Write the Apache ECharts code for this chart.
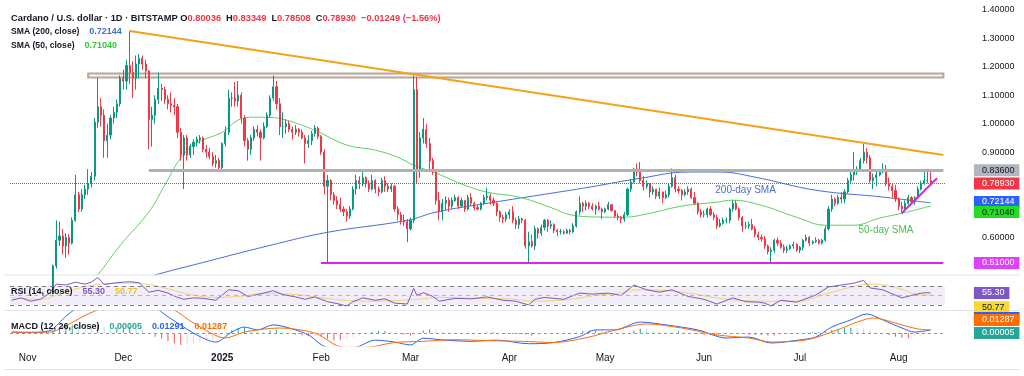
<!DOCTYPE html>
<html><head><meta charset="utf-8">
<script src="https://cdn.jsdelivr.net/npm/echarts@6/dist/echarts.min.js"></script>
<style>html,body{margin:0;padding:0;background:#fff}#c{width:1024px;height:376px}</style>
</head><body><div id="c"></div>
<script>
// ---------- DATA ----------
const startDate = '2024-10-27';
const endDate = '2025-08-15';          // axis runs a few empty days past the last candle
const firstOpen = 0.345;
// daily [close, high, low]; open = previous close (24/7 market)
const oct24 = [[.352,.356,.338],[.356,.362,.344],[.366,.381,.350],[.360,.372,.352],[.341,.362,.334]];
const nov24 = [[.331,.347,.324],[.327,.336,.320],[.318,.329,.309],[.333,.338,.314],[.343,.351,.329],
 [.372,.381,.342],[.383,.392,.366],[.402,.406,.376],[.500,.505,.400],[.590,.660,.490],
 [.605,.655,.570],[.570,.630,.540],[.600,.615,.528],[.580,.612,.540],[.660,.670,.575],
 [.750,.820,.655],[.700,.760,.690],[.750,.770,.690],[.770,.785,.735],[.790,.840,.750],
 [.815,.830,.775],[1.005,1.020,.800],[1.060,1.160,.985],[1.030,1.090,.990],[.940,1.050,.880],
 [.960,1.000,.880],[1.020,1.030,.945],[1.040,1.060,1.000],[1.070,1.085,1.020],[1.160,1.170,1.060]];
const dec24 = [[1.150,1.190,1.120],[1.205,1.225,1.120],[1.180,1.3265,1.140],[1.160,1.220,1.090],[1.210,1.240,1.120],
 [1.230,1.245,1.160],[1.210,1.240,1.190],[1.185,1.225,1.160],[1.015,1.190,.910],[1.030,1.060,.920],
 [1.085,1.100,1.000],[1.125,1.180,1.070],[1.120,1.140,1.080],[1.085,1.130,1.070],[1.070,1.100,1.050],
 [1.065,1.110,1.040],[1.060,1.090,1.030],[.970,1.070,.950],[.890,.985,.870],[.950,.960,.770],
 [.890,.960,.870],[.920,.930,.880],[.935,.945,.890],[.945,.955,.920],[.950,.960,.930],
 [.910,.955,.900],[.900,.925,.880],[.885,.915,.875],[.860,.900,.850],[.870,.890,.845],[.845,.880,.835]];
const jan25 = [[.930,.935,.840],[.970,.990,.920],[1.090,1.120,.960],[1.090,1.110,1.060],[1.080,1.146,1.060],
 [1.100,1.150,1.060],[1.020,1.110,1.000],[.940,1.030,.920],[.910,.950,.870],[.950,.960,.890],
 [.980,.990,.940],[.970,.995,.955],[.950,.980,.870],[.990,1.005,.945],[1.030,1.040,.985],
 [1.090,1.100,1.020],[1.130,1.170,1.080],[1.070,1.150,1.050],[.990,1.090,.960],[.990,1.040,.950],
 [1.000,1.015,.965],[.980,1.010,.970],[.970,.990,.945],[.980,.995,.960],[.970,.985,.955],
 [.950,.980,.945],[.930,.960,.860],[.940,.960,.915],[.965,.975,.925],[.985,.995,.955],[.955,.990,.945]];
const feb25 = [[.900,.960,.890],[.780,.910,.750],[.800,.820,.510],[.750,.805,.730],[.730,.760,.715],
 [.715,.745,.700],[.700,.740,.690],[.690,.710,.675],[.675,.700,.655],[.700,.710,.665],
 [.770,.780,.695],[.800,.820,.750],[.790,.815,.770],[.810,.830,.780],[.790,.815,.775],
 [.770,.800,.760],[.800,.820,.765],[.770,.805,.755],[.760,.780,.745],[.800,.810,.755],
 [.780,.815,.760],[.770,.790,.760],[.780,.790,.760],[.700,.785,.690],[.680,.710,.660],
 [.660,.690,.645],[.655,.680,.640],[.630,.665,.583]];
const mar25 = [[.660,.670,.625],[1.120,1.170,.650],[.840,1.165,.790],[.950,.970,.810],[.980,1.020,.930],
 [.930,1.000,.915],[.870,.950,.840],[.830,.880,.820],[.730,.835,.715],[.690,.760,.660],
 [.720,.735,.660],[.730,.745,.695],[.710,.740,.690],[.730,.740,.700],[.740,.750,.725],
 [.710,.745,.700],[.730,.740,.705],[.700,.730,.690],[.740,.750,.695],[.720,.755,.710],
 [.705,.725,.695],[.700,.715,.695],[.720,.725,.695],[.740,.750,.715],[.745,.775,.730],
 [.730,.755,.715],[.720,.740,.710],[.690,.725,.675],[.670,.695,.655],[.665,.680,.650],[.680,.690,.655]];
const apr25 = [[.690,.700,.665],[.660,.710,.650],[.645,.670,.630],[.665,.675,.630],[.660,.670,.650],
 [.570,.665,.560],[.585,.620,.510],[.570,.610,.565],[.630,.640,.555],[.615,.635,.595],
 [.635,.645,.605],[.660,.665,.625],[.640,.665,.620],[.645,.660,.630],[.625,.650,.615],
 [.620,.630,.605],[.620,.630,.610],[.615,.625,.610],[.625,.630,.612],[.620,.630,.610],
 [.640,.650,.615],[.690,.695,.635],[.720,.745,.680],[.710,.725,.690],[.720,.730,.695],
 [.710,.725,.700],[.700,.720,.695],[.710,.715,.680],[.700,.725,.695],[.690,.705,.665]];
const may25 = [[.700,.705,.685],[.715,.725,.695],[.695,.715,.690],[.675,.695,.670],[.670,.685,.660],
 [.665,.675,.650],[.680,.690,.655],[.770,.775,.675],[.795,.805,.760],[.840,.845,.790],
 [.830,.860,.815],[.800,.865,.790],[.780,.815,.765],[.790,.800,.770],[.760,.790,.740],
 [.770,.780,.750],[.745,.770,.735],[.760,.775,.735],[.740,.760,.720],[.750,.765,.735],
 [.780,.790,.740],[.810,.843,.775],[.770,.820,.760],[.765,.780,.755],[.750,.770,.730],
 [.760,.770,.745],[.770,.780,.750],[.740,.775,.735],[.720,.760,.715],[.690,.725,.680],[.680,.700,.670]];
const jun25 = [[.680,.695,.670],[.700,.705,.670],[.680,.710,.675],[.670,.690,.660],[.640,.680,.630],
 [.650,.665,.635],[.660,.670,.645],[.660,.670,.650],[.700,.705,.650],[.720,.730,.690],
 [.700,.730,.695],[.670,.705,.660],[.640,.675,.620],[.640,.655,.630],[.645,.655,.630],
 [.630,.665,.625],[.610,.640,.600],[.600,.620,.590],[.595,.610,.585],[.570,.605,.560],
 [.550,.575,.540],[.555,.565,.510],[.590,.595,.545],[.580,.600,.570],[.565,.590,.560],
 [.555,.575,.545],[.560,.570,.545],[.570,.575,.555],[.575,.585,.560],[.555,.580,.550]];
const jul25 = [[.565,.570,.545],[.590,.595,.555],[.600,.610,.585],[.580,.605,.570],[.585,.590,.575],
 [.590,.600,.580],[.580,.595,.575],[.590,.595,.575],[.630,.640,.585],[.700,.710,.625],
 [.735,.750,.690],[.720,.740,.710],[.740,.750,.715],[.735,.760,.720],[.760,.770,.720],
 [.800,.810,.755],[.820,.830,.790],[.830,.900,.800],[.840,.850,.820],[.870,.880,.830],
 [.900,.930,.860],[.880,.915,.860],[.800,.890,.790],[.810,.825,.770],[.820,.830,.780],
 [.830,.840,.815],[.840,.860,.825],[.790,.855,.780],[.780,.810,.765],[.765,.790,.740],[.735,.785,.725]];
const aug25 = [[.710,.740,.695],[.700,.725,.685],[.720,.730,.690],[.740,.750,.715],[.725,.745,.715],
 [.740,.745,.715],[.770,.780,.735],[.790,.800,.765],[.800,.836,.785],[.80036,.840,.790],[.7893,.83349,.78508]];

// indicator readings [date, value]
const sma200Pts = [['2024-12-03',.440],['2024-12-10',.465],['2024-12-25',.509],['2025-01-16',.572],['2025-02-03',.618],
 ['2025-02-28',.660],['2025-03-09',.689],['2025-03-25',.720],['2025-04-24',.773],['2025-05-12',.808],['2025-05-27',.830],
 ['2025-06-06',.830],['2025-06-17',.812],['2025-07-06',.766],['2025-07-27',.742],['2025-08-11',.72144]];
const sma50Pts = [['2024-11-18',.400],['2024-11-23',.467],['2024-11-30',.572],['2024-12-09',.689],['2024-12-14',.784],['2024-12-19',.879],
 ['2024-12-24',.932],['2025-01-01',.970],['2025-01-06',1.013],['2025-01-11',1.023],['2025-01-16',1.022],['2025-01-21',1.013],
 ['2025-01-30',.977],['2025-02-09',.925],['2025-02-18',.907],['2025-02-25',.882],['2025-03-02',.854],['2025-03-09',.826],
 ['2025-03-18',.784],['2025-03-25',.759],['2025-04-04',.742],['2025-04-14',.705],['2025-04-20',.680],['2025-04-28',.672],
 ['2025-05-07',.671],['2025-05-15',.685],['2025-05-25',.710],['2025-06-05',.724],['2025-06-10',.731],['2025-06-19',.713],
 ['2025-06-30',.671],['2025-07-09',.643],['2025-07-18',.643],['2025-07-26',.668],['2025-08-02',.685],['2025-08-11',.7104]];
const rsiPts = [['2024-10-27',40],['2024-10-30',45],['2024-11-02',38],['2024-11-05',42],['2024-11-08',55],['2024-11-10',74],
 ['2024-11-13',72],['2024-11-16',78],['2024-11-19',74],['2024-11-21',78],['2024-11-23',88],['2024-11-25',73],['2024-11-28',76],
 ['2024-12-01',78],['2024-12-03',79],['2024-12-06',77],['2024-12-09',57],['2024-12-12',61],['2024-12-15',55],['2024-12-18',46],
 ['2024-12-20',42],['2024-12-23',45],['2024-12-26',44],['2024-12-30',40],['2025-01-03',62],['2025-01-06',60],['2025-01-09',48],
 ['2025-01-12',52],['2025-01-17',60],['2025-01-20',52],['2025-01-24',47],['2025-01-27',42],['2025-01-30',47],['2025-02-01',42],
 ['2025-02-03',37],['2025-02-06',33],['2025-02-09',28],['2025-02-11',37],['2025-02-14',45],['2025-02-18',40],['2025-02-21',43],
 ['2025-02-24',34],['2025-02-28',32],['2025-03-02',65],['2025-03-03',50],['2025-03-05',56],['2025-03-08',48],['2025-03-10',38],
 ['2025-03-15',44],['2025-03-20',43],['2025-03-25',47],['2025-03-30',40],['2025-04-03',38],['2025-04-07',30],['2025-04-09',42],
 ['2025-04-12',46],['2025-04-18',42],['2025-04-23',55],['2025-04-27',53],['2025-05-02',55],['2025-05-06',50],['2025-05-10',72],
 ['2025-05-14',62],['2025-05-18',57],['2025-05-22',62],['2025-05-27',48],['2025-06-01',42],['2025-06-05',32],['2025-06-10',45],
 ['2025-06-14',37],['2025-06-18',36],['2025-06-20',34],['2025-06-22',28],['2025-06-25',40],['2025-06-30',36],['2025-07-06',51],
 ['2025-07-10',68],['2025-07-14',72],['2025-07-18',76],['2025-07-21',82],['2025-07-23',66],['2025-07-27',62],['2025-08-02',45],
 ['2025-08-05',50],['2025-08-08',55],['2025-08-10',56],['2025-08-11',55.30]];
const rsiMaPts = [['2024-10-27',45],['2024-11-05',42],['2024-11-12',55],['2024-11-20',70],['2024-11-30',76],['2024-12-08',74],
 ['2024-12-15',64],['2024-12-22',52],['2024-12-30',46],['2025-01-06',48],['2025-01-15',54],['2025-01-22',53],['2025-01-31',46],
 ['2025-02-08',40],['2025-02-16',38],['2025-02-24',39],['2025-03-03',42],['2025-03-10',46],['2025-03-20',44],['2025-03-31',43],
 ['2025-04-10',38],['2025-04-20',42],['2025-04-28',50],['2025-05-05',55],['2025-05-12',62],['2025-05-24',58],['2025-06-05',45],
 ['2025-06-12',40],['2025-06-22',38],['2025-06-30',38],['2025-07-10',55],['2025-07-20',72],['2025-07-24',74],['2025-08-01',65],
 ['2025-08-07',52],['2025-08-11',50.77]];
const macdPts = [['2024-10-27',.004],['2024-11-03',.002],['2024-11-08',.010],['2024-11-10',.030],['2024-11-13',.070],['2024-11-16',.100],
 ['2024-11-23',.140],['2024-12-03',.170],['2024-12-09',.140],['2024-12-13',.088],['2024-12-18',.042],['2024-12-24',-.008],
 ['2024-12-30',-.038],['2025-01-04',.004],['2025-01-08',.025],['2025-01-12',.013],['2025-01-17',.034],['2025-01-22',.021],
 ['2025-01-28',-.008],['2025-02-03',-.060],['2025-02-11',-.062],['2025-02-18',-.030],['2025-02-24',-.038],['2025-03-01',-.050],
 ['2025-03-05',-.022],['2025-03-12',-.030],['2025-03-20',-.035],['2025-03-28',-.030],['2025-04-07',-.045],['2025-04-15',-.040],
 ['2025-04-23',-.015],['2025-04-28',.013],['2025-05-04',.013],['2025-05-12',.046],['2025-05-20',.034],['2025-05-30',.013],
 ['2025-06-08',-.021],['2025-06-15',-.017],['2025-06-22',-.042],['2025-07-01',-.029],['2025-07-06',-.017],['2025-07-11',.025],
 ['2025-07-17',.055],['2025-07-22',.080],['2025-07-27',.055],['2025-08-02',.021],['2025-08-06',.004],['2025-08-11',.01291]];
const signalPts = [['2024-10-27',.003],['2024-11-08',.004],['2024-11-13',.030],['2024-11-20',.080],['2024-11-30',.130],
 ['2024-12-10',.150],['2024-12-18',.088],['2024-12-24',.034],['2025-01-02',-.021],['2025-01-08',.004],['2025-01-19',.021],
 ['2025-01-30',.000],['2025-02-08',-.060],['2025-02-15',-.060],['2025-02-24',-.040],['2025-03-05',-.035],['2025-03-15',-.028],
 ['2025-03-25',-.032],['2025-04-05',-.035],['2025-04-15',-.040],['2025-04-25',-.020],['2025-05-03',.008],['2025-05-14',.038],
 ['2025-05-25',.021],['2025-06-05',-.008],['2025-06-15',-.021],['2025-06-22',-.038],['2025-07-03',-.029],['2025-07-11',.004],
 ['2025-07-19',.046],['2025-07-24',.063],['2025-08-02',.034],['2025-08-07',.017],['2025-08-11',.01287]];
const histPts = [['2024-11-01',.001],['2024-11-03',0],['2024-11-05',.002],['2024-11-07',.006],['2024-11-09',.012],['2024-11-11',.022],
 ['2024-11-13',.030],['2024-11-15',.034],['2024-11-17',.032],['2024-11-19',.030],['2024-11-21',.028],['2024-11-23',.034],
 ['2024-11-25',.026],['2024-11-27',.020],['2024-11-29',.022],['2024-12-01',.024],['2024-12-03',.026],['2024-12-05',.020],
 ['2024-12-07',.014],['2024-12-09',-.004],['2024-12-11',-.016],['2024-12-13',-.024],['2024-12-15',-.034],['2024-12-17',-.044],
 ['2024-12-19',-.050],['2024-12-21',-.048],['2024-12-23',-.044],['2024-12-25',-.040],['2024-12-27',-.036],['2024-12-29',-.030],
 ['2024-12-31',-.022],['2025-01-02',0],['2025-01-04',.012],['2025-01-06',.020],['2025-01-08',.022],['2025-01-10',.014],
 ['2025-01-12',.006],['2025-01-14',.004],['2025-01-16',.010],['2025-01-18',.014],['2025-01-20',.008],['2025-01-22',0],
 ['2025-01-24',-.006],['2025-01-26',-.010],['2025-01-28',-.014],['2025-01-30',-.012],['2025-02-01',-.016],['2025-02-03',-.024],
 ['2025-02-05',-.030],['2025-02-07',-.030],['2025-02-09',-.026],['2025-02-11',-.018],['2025-02-13',-.010],['2025-02-15',-.004],
 ['2025-02-17',.004],['2025-02-19',.008],['2025-02-21',.008],['2025-02-23',.006],['2025-02-25',0],['2025-02-27',-.006],
 ['2025-03-01',-.010],['2025-03-03',-.004],['2025-03-05',.010],['2025-03-07',.016],['2025-03-09',.014],['2025-03-11',.006],
 ['2025-03-13',.002],['2025-03-15',-.002],['2025-03-17',-.004],['2025-03-19',-.004],['2025-03-21',-.002],['2025-03-23',-.001],
 ['2025-03-25',.002],['2025-03-27',.003],['2025-03-29',0],['2025-03-31',-.003],['2025-04-02',-.004],['2025-04-04',-.005],
 ['2025-04-06',-.006],['2025-04-08',-.012],['2025-04-10',-.010],['2025-04-12',-.006],['2025-04-14',-.004],['2025-04-16',-.003],
 ['2025-04-18',-.002],['2025-04-20',-.001],['2025-04-22',.001],['2025-04-24',.008],['2025-04-26',.012],['2025-04-28',.012],
 ['2025-04-30',.010],['2025-05-02',.008],['2025-05-04',.005],['2025-05-06',.002],['2025-05-08',0],['2025-05-10',.010],
 ['2025-05-12',.018],['2025-05-14',.016],['2025-05-16',.010],['2025-05-18',.006],['2025-05-20',.002],['2025-05-22',.002],
 ['2025-05-24',.006],['2025-05-26',.004],['2025-05-28',0],['2025-05-30',-.004],['2025-06-01',-.008],['2025-06-03',-.008],
 ['2025-06-05',-.010],['2025-06-07',-.008],['2025-06-09',-.004],['2025-06-11',0],['2025-06-13',-.004],['2025-06-15',-.008],
 ['2025-06-17',-.008],['2025-06-19',-.008],['2025-06-21',-.010],['2025-06-23',-.010],['2025-06-25',-.006],['2025-06-27',-.004],
 ['2025-06-29',-.002],['2025-07-01',0],['2025-07-03',.002],['2025-07-05',.004],['2025-07-07',.004],['2025-07-09',.006],
 ['2025-07-11',.014],['2025-07-13',.018],['2025-07-15',.022],['2025-07-17',.022],['2025-07-19',.020],['2025-07-21',.018],
 ['2025-07-23',.014],['2025-07-25',.006],['2025-07-27',0],['2025-07-29',-.008],['2025-07-31',-.016],['2025-08-02',-.020],
 ['2025-08-04',-.022],['2025-08-06',-.016],['2025-08-08',-.010],['2025-08-10',-.004],['2025-08-11',.00005]];

// drawn levels / trendlines [date, value]
const trendDown = [['2024-12-03',1.3265],['2025-08-15',0.89]];
const trendUp = [['2025-08-02',0.686],['2025-08-13',0.808]];
const resistBox = {from:'2024-11-20', lo:1.1623, hi:1.1764};
const level836 = {from:'2024-12-09', value:0.836};
const level51 = {from:'2025-02-01', value:0.51};
const lastPrice = 0.7893, sma200Last = 0.72144, sma50Last = 0.7104;
const rsiLast = 55.30, rsiMaLast = 50.77, histLast = 0.00005, macdLast = 0.01291, signalLast = 0.01287;
const priceTicks = [0.6, 0.9, 1.0, 1.1, 1.2, 1.3, 1.4];
const tickLabels = {'2024-11':'Nov','2024-12':'Dec','2025-01':'2025','2025-02':'Feb','2025-03':'Mar','2025-04':'Apr',
 '2025-05':'May','2025-06':'Jun','2025-07':'Jul','2025-08':'Aug'};
const notes = [{text:'200-day SMA', date:'2025-06-14', value:0.766, color:'#4a6cdb'},
               {text:'50-day SMA', date:'2025-07-28', value:0.625, color:'#4cc24c'}];

// ---------- BUILD ----------
const categories = [];
for (let t = Date.parse(startDate + 'T00:00:00Z'); t <= Date.parse(endDate + 'T00:00:00Z'); t += 86400000)
  categories.push(new Date(t).toISOString().slice(0, 10));
const LAST = categories.length - 1;
const ix = d => categories.indexOf(d);
const daily = [].concat(oct24, nov24, dec24, jan25, feb25, mar25, apr25, may25, jun25, jul25, aug25);
const candles = daily.map((r, i) => [i === 0 ? firstOpen : daily[i - 1][0], r[0], r[2], r[1]]);
const pts = a => a.map(([d, v]) => [ix(d), v]);

const FONT = '"Liberation Sans", Arial, sans-serif';
const UP = '#089981', DOWN = '#f23645';

function badge(v, text, bg, fg, dy) {
  return {coord:[LAST, v], value:v, symbol:'circle', symbolSize:0,
    label:{show:true, position:'right', distance:30.5, offset:[0, dy || 0], formatter:text,
      backgroundColor:bg, color:fg, padding:[1,5,1,8], fontSize:9, lineHeight:10, fontFamily:FONT}};
}

const histData = histPts.map(([d, v], i) => {
  const prev = i > 0 ? histPts[i - 1][1] : 0;
  let c;
  if (v >= 0) c = v >= prev ? '#26a69a' : '#b2dfdb';
  else c = v <= prev ? '#ff5252' : '#ffcdd2';
  return {value:[ix(d), v], itemStyle:{color:c}};
});

const xBase = {type:'category', data:categories, boundaryGap:true,
  axisLine:{show:false}, axisTick:{show:false}, axisLabel:{show:false}, splitLine:{show:false}};
const st = (size, color) => ({fontSize:size, color:color, fontFamily:FONT});

const option = {
  animation:false,
  backgroundColor:'#ffffff',
  textStyle:{fontFamily:FONT},
  title:[
    {left:11, top:9, padding:0, text:'{a|Cardano / U.S. dollar · 1D · BITSTAMP O}{r|0.80036} {a|H}{r|0.83349} {a|L}{r|0.78508} {a|C}{r|0.78930} {r|−0.01249 (−1.56%)}',
     textStyle:{rich:{a:st(9.3, '#131722'), r:st(9.3, '#f23645')}}},
    {left:11, top:23, padding:0, text:'{a|SMA (200, close)}  {b|0.72144}',
     textStyle:{rich:{a:st(8.6, '#131722'), b:st(9, '#3a6fe0')}}},
    {left:11, top:37, padding:0, text:'{a|SMA (50, close)}  {g|0.71040}',
     textStyle:{rich:{a:st(8.6, '#131722'), g:st(9, '#2ecc2e')}}},
    {left:11, top:283, padding:0, text:'{a|RSI (14, close)}  {p|55.30}  {y|50.77}',
     textStyle:{rich:{a:st(9, '#131722'), p:st(9, '#7e57c2'), y:st(9, '#e8c32e')}}},
    {left:11, top:318, padding:0, text:'{a|MACD (12, 26, close)}  {t|0.00005}  {b|0.01291}  {o|0.01287}',
     textStyle:{rich:{a:st(9, '#131722'), t:st(9, '#26a69a'), b:st(9, '#2962ff'), o:st(9, '#ff6d00')}}}
  ],
  graphic:[
    {type:'line', shape:{x1:4, y1:275, x2:1020, y2:275}, style:{stroke:'#e0e3eb', lineWidth:1}, silent:true},
    {type:'line', shape:{x1:4, y1:310.5, x2:1020, y2:310.5}, style:{stroke:'#e0e3eb', lineWidth:1}, silent:true},
    {type:'line', shape:{x1:4, y1:369.5, x2:1020, y2:369.5}, style:{stroke:'#e0e3eb', lineWidth:1}, silent:true}
  ],
  grid:[
    {left:10, right:79, top:4, height:270},
    {left:10, right:79, top:276, height:34},
    {left:10, right:79, top:311, height:35}
  ],
  xAxis:[
    Object.assign({}, xBase, {gridIndex:0}),
    Object.assign({}, xBase, {gridIndex:1}),
    Object.assign({}, xBase, {gridIndex:2, axisLabel:{show:true, margin:7, fontSize:10, color:'#131722', fontFamily:FONT,
      interval:(i, v) => v.slice(8) === '01',
      formatter:v => { const l = tickLabels[v.slice(0, 7)] || ''; return l === '2025' ? '{y|2025}' : l; },
      rich:{y:{fontSize:10, fontWeight:'bold', color:'#131722', fontFamily:FONT}}}})
  ],
  yAxis:[
    {gridIndex:0, type:'value', position:'right', min:0.4713, max:1.4211, scale:true,
     axisLine:{show:false}, axisTick:{show:false}, splitLine:{show:false},
     axisLabel:{customValues:priceTicks, formatter:v => v.toFixed(5), margin:37, fontSize:9, color:'#131722', fontFamily:FONT}},
    {gridIndex:1, type:'value', position:'right', min:19.47, max:91.05,
     axisLine:{show:false}, axisTick:{show:false}, splitLine:{show:false}, axisLabel:{show:false}},
    {gridIndex:2, type:'value', position:'right', min:-0.0546, max:0.0924,
     axisLine:{show:false}, axisTick:{show:false}, splitLine:{show:false}, axisLabel:{show:false}}
  ],
  series:[
    {name:'price', type:'candlestick', xAxisIndex:0, yAxisIndex:0, clip:true, barWidth:1.6, z:3,
     data:candles,
     itemStyle:{color:UP, color0:DOWN, borderColor:UP, borderColor0:DOWN, borderWidth:1},
     markArea:{silent:true, z:1,
       itemStyle:{color:'rgba(190,172,160,0.12)', borderColor:'#b8a79c', borderWidth:2},
       data:[[{coord:[ix(resistBox.from), resistBox.hi]}, {coord:[LAST, resistBox.lo]}]]},
     markLine:{silent:true, symbol:['none','none'], label:{show:false}, animation:false,
       data:[
         [{coord:[ix(level836.from), level836.value]}, {coord:[LAST, level836.value], lineStyle:{color:'#b0b0b0', width:3, type:'solid'}}],
         [{coord:[ix(trendDown[0][0]), trendDown[0][1]]}, {coord:[ix(trendDown[1][0]), trendDown[1][1]], lineStyle:{color:'#f5a11c', width:2, type:'solid'}}],
         [{coord:[ix(level51.from), level51.value]}, {coord:[LAST, level51.value], lineStyle:{color:'#dd22ee', width:2, type:'solid'}}],
         [{coord:[ix(trendUp[0][0]), trendUp[0][1]]}, {coord:[ix(trendUp[1][0]), trendUp[1][1]], lineStyle:{color:'#dd22ee', width:2, type:'solid'}}],
         {yAxis:lastPrice, lineStyle:{color:'#f23645', width:1, type:'dotted'}}
       ]},
     markPoint:{silent:true, animation:false, data:[
       badge(level836.value, '0.83600', '#b2b5be', '#131722'),
       badge(lastPrice, '0.78930', '#f23645', '#ffffff'),
       badge(sma200Last, '0.72144', '#2962ff', '#ffffff', -1),
       badge(sma50Last, '0.71040', '#22dd22', '#131722', 6),
       badge(level51.value, '0.51000', '#e040fb', '#ffffff')
     ]}},
    {name:'SMA200', type:'line', xAxisIndex:0, yAxisIndex:0, data:pts(sma200Pts), showSymbol:false, smooth:0.4, clip:true,
     lineStyle:{color:'#4a6cdb', width:1}, z:2,
     markPoint:{silent:true, symbolSize:0, data:[{coord:[ix(notes[0].date), notes[0].value], value:0,
       label:{show:true, formatter:notes[0].text, color:notes[0].color, fontSize:10, fontFamily:FONT}}]}},
    {name:'SMA50', type:'line', xAxisIndex:0, yAxisIndex:0, data:pts(sma50Pts), showSymbol:false, smooth:0.4, clip:true,
     lineStyle:{color:'#5cd05c', width:1}, z:2,
     markPoint:{silent:true, symbolSize:0, data:[{coord:[ix(notes[1].date), notes[1].value], value:0,
       label:{show:true, formatter:notes[1].text, color:notes[1].color, fontSize:10, fontFamily:FONT}}]}},
    {name:'RSI', type:'line', xAxisIndex:1, yAxisIndex:1, data:pts(rsiPts), showSymbol:false, clip:true,
     lineStyle:{color:'#7e57c2', width:1}, z:3,
     markArea:{silent:true, itemStyle:{color:'rgba(126,87,194,0.1)'}, data:[[{yAxis:30}, {yAxis:70}]]},
     markLine:{silent:true, symbol:['none','none'], label:{show:false},
       data:[{yAxis:70, lineStyle:{color:'#787b86', type:[4,4], width:1}},
             {yAxis:50, lineStyle:{color:'#b2b5be', type:[4,4], width:1}},
             {yAxis:30, lineStyle:{color:'#787b86', type:[4,4], width:1}}]},
     markPoint:{silent:true, data:[badge(rsiMaLast, '50.77', '#fdd835', '#131722', 12), badge(rsiLast, '55.30', '#7e57c2', '#ffffff')]}},
    {name:'RSI MA', type:'line', xAxisIndex:1, yAxisIndex:1, data:pts(rsiMaPts), showSymbol:false, smooth:0.4, clip:true,
     lineStyle:{color:'#f3d46a', width:1}, z:2},
    {name:'Hist', type:'bar', xAxisIndex:2, yAxisIndex:2, data:histData, barWidth:1, clip:true, z:2,
     markLine:{silent:true, symbol:['none','none'], label:{show:false},
       data:[{yAxis:0, lineStyle:{color:'#9598a1', type:[3,3], width:1}}]},
     markPoint:{silent:true, data:[badge(macdLast, '0.01291', '#2962ff', '#ffffff', -12),
       badge(signalLast, '0.01287', '#ff6d00', '#ffffff', -10), badge(histLast, '0.00005', '#26a69a', '#ffffff')]}},
    {name:'MACD', type:'line', xAxisIndex:2, yAxisIndex:2, data:pts(macdPts), showSymbol:false, smooth:0.3, clip:true,
     lineStyle:{color:'#2962ff', width:1}, z:3},
    {name:'Signal', type:'line', xAxisIndex:2, yAxisIndex:2, data:pts(signalPts), showSymbol:false, smooth:0.3, clip:true,
     lineStyle:{color:'#ff6d00', width:1}, z:3}
  ]
};
const chart = echarts.init(document.getElementById('c'), null, {renderer:'canvas'});
chart.setOption(option);
</script>
</body></html>
